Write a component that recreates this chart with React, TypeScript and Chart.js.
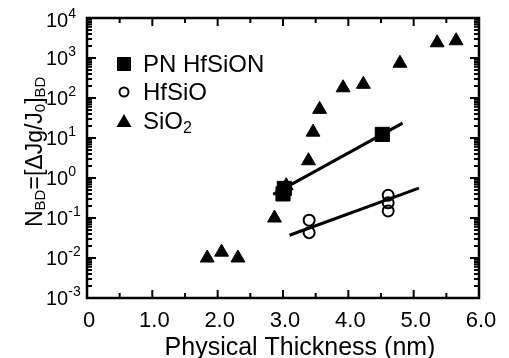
import React, { useEffect, useRef } from 'react';
import { Chart, registerables } from 'chart.js';

Chart.register(...registerables);

// ---- data ----
const sio2X = [1.84, 2.06, 2.31, 2.87, 3.05, 3.39, 3.46, 3.56, 3.92, 4.23, 4.79, 5.36, 5.65];
const sio2Y = [0.010, 0.014, 0.010, 0.10, 0.64, 2.7, 14, 52, 180, 220, 740, 2400, 2700];
const hfsionX = [3.0, 3.02, 4.52];
const hfsionY = [0.40, 0.55, 12.3];
const hfsioX = [3.4, 3.4, 4.61, 4.61, 4.61];
const hfsioY = [0.088, 0.043, 0.37, 0.24, 0.15];
const hfsionFitX = [2.85, 4.83];
const hfsionFitY = [0.39, 23.5];
const hfsioFitX = [3.1, 5.08];
const hfsioFitY = [0.037, 0.56];

const xMajorTicks = [0, 1, 2, 3, 4, 5, 6];
const xTickLabels = ['0', '1.0', '2.0', '3.0', '4.0', '5.0', '6.0'];
const xMinorTicks = [0.5, 1.5, 2.5, 3.5, 4.5, 5.5];
const yDecadeExps = [-3, -2, -1, 0, 1, 2, 3, 4];
const yMinorMultipliers = [2, 3, 4, 5, 6, 7, 8, 9];

const seriesNames = ['PN HfSiON', 'HfSiO', 'SiO'];
const xTitle = 'Physical Thickness (nm)';

const FONT = '"Liberation Sans", Arial, Helvetica, sans-serif';

function zip(xs: number[], ys: number[]) {
  return xs.map((x, i) => ({ x, y: ys[i] }));
}

const decorPlugin = {
  id: 'decor',
  afterDraw(chart: any) {
    const ctx = chart.ctx as CanvasRenderingContext2D;
    const xs = chart.scales.x;
    const ys = chart.scales.y;
    const { left, right, top, bottom } = chart.chartArea;
    ctx.save();
    ctx.strokeStyle = '#000';
    ctx.fillStyle = '#000';

    // ticks (inward)
    ctx.lineWidth = 2;
    ctx.beginPath();
    xMajorTicks.forEach((v) => {
      const px = xs.getPixelForValue(v);
      ctx.moveTo(px, bottom); ctx.lineTo(px, bottom - 8);
      ctx.moveTo(px, top); ctx.lineTo(px, top + 8);
    });
    xMinorTicks.forEach((v) => {
      const px = xs.getPixelForValue(v);
      ctx.moveTo(px, bottom); ctx.lineTo(px, bottom - 5);
      ctx.moveTo(px, top); ctx.lineTo(px, top + 5);
    });
    yDecadeExps.forEach((e) => {
      const py = ys.getPixelForValue(Math.pow(10, e));
      ctx.moveTo(left, py); ctx.lineTo(left + 9, py);
      ctx.moveTo(right, py); ctx.lineTo(right - 9, py);
      if (e < 4) {
        yMinorMultipliers.forEach((m) => {
          const pm = ys.getPixelForValue(m * Math.pow(10, e));
          ctx.moveTo(left, pm); ctx.lineTo(left + 5, pm);
          ctx.moveTo(right, pm); ctx.lineTo(right - 5, pm);
        });
      }
    });
    ctx.stroke();

    // frame
    ctx.lineWidth = 2.5;
    ctx.strokeRect(left, top, right - left, bottom - top);

    // x tick labels
    ctx.font = `22px ${FONT}`;
    ctx.textAlign = 'center';
    ctx.textBaseline = 'alphabetic';
    xMajorTicks.forEach((v, i) => {
      ctx.fillText(xTickLabels[i], xs.getPixelForValue(v) + 2, 326.5);
    });

    // x title
    ctx.font = `25px ${FONT}`;
    ctx.fillText(xTitle, 300, 355);

    // y tick labels: 10^n
    ctx.textAlign = 'left';
    yDecadeExps.forEach((e) => {
      const py = ys.getPixelForValue(Math.pow(10, e));
      const base = Math.max(py + 7, 27);
      ctx.font = `20px ${FONT}`;
      ctx.fillText('10', 46, base);
      const w = ctx.measureText('10').width;
      ctx.font = `14px ${FONT}`;
      ctx.fillText(String(e), 46 + w, base - 9);
    });

    // y title (rotated)
    ctx.save();
    ctx.translate(42, 227);
    ctx.rotate(-Math.PI / 2);
    let cx = 0;
    const big = `23px ${FONT}`;
    const small = `15px ${FONT}`;
    const parts: [string, boolean][] = [
      ['N', false], ['BD', true], ['=[\u0394Jg/J', false], ['0', true], [']', false], ['BD', true],
    ];
    parts.forEach(([t, sub]) => {
      ctx.font = sub ? small : big;
      ctx.fillText(t, cx, sub ? 3 : 0);
      cx += ctx.measureText(t).width;
    });
    ctx.restore();

    // legend
    const mx = 124;
    const tx = 143;
    const rows = [72, 100, 129];
    ctx.font = `24px ${FONT}`;
    // square
    ctx.fillRect(mx - 7, rows[0] - 15, 14, 14);
    ctx.fillText(seriesNames[0], tx, rows[0]);
    // circle
    ctx.lineWidth = 2;
    ctx.beginPath();
    ctx.arc(mx, rows[1] - 8, 4.5, 0, Math.PI * 2);
    ctx.stroke();
    ctx.fillText(seriesNames[1], tx, rows[1]);
    // triangle
    ctx.beginPath();
    ctx.moveTo(mx, rows[2] - 15);
    ctx.lineTo(mx + 7.5, rows[2] - 2);
    ctx.lineTo(mx - 7.5, rows[2] - 2);
    ctx.closePath();
    ctx.fill();
    ctx.fillText(seriesNames[2], tx, rows[2]);
    const sw = ctx.measureText(seriesNames[2]).width;
    ctx.font = `16px ${FONT}`;
    ctx.fillText('2', tx + sw, rows[2] + 4);

    ctx.restore();
  },
};

export default function App() {
  const ref = useRef<HTMLCanvasElement | null>(null);
  useEffect(() => {
    document.body.style.margin = '0';
    if (!ref.current) return;
    const chart = new Chart(ref.current, {
      type: 'scatter',
      data: {
        datasets: [
          {
            label: 'PN HfSiON fit',
            type: 'line',
            data: zip(hfsionFitX, hfsionFitY),
            borderColor: '#000',
            borderWidth: 3,
            pointRadius: 0,
            showLine: true,
            fill: false,
          },
          {
            label: 'HfSiO fit',
            type: 'line',
            data: zip(hfsioFitX, hfsioFitY),
            borderColor: '#000',
            borderWidth: 3,
            pointRadius: 0,
            showLine: true,
            fill: false,
          },
          {
            label: 'SiO2',
            data: zip(sio2X, sio2Y),
            pointStyle: 'triangle',
            pointRadius: 8,
            backgroundColor: '#000',
            borderColor: '#000',
            borderWidth: 1,
          },
          {
            label: 'PN HfSiON',
            data: zip(hfsionX, hfsionY),
            pointStyle: 'rect',
            pointRadius: 10,
            backgroundColor: '#000',
            borderColor: '#000',
            borderWidth: 1,
          },
          {
            label: 'HfSiO',
            data: zip(hfsioX, hfsioY),
            pointStyle: 'circle',
            pointRadius: 5.5,
            backgroundColor: 'rgba(0,0,0,0)',
            borderColor: '#000',
            borderWidth: 2,
          },
        ],
      },
      options: {
        responsive: false,
        animation: false,
        devicePixelRatio: 1,
        layout: { padding: { left: 87, right: 30, top: 18, bottom: 60 } },
        plugins: { legend: { display: false }, tooltip: { enabled: false } },
        scales: {
          x: { type: 'linear', min: 0, max: 6, display: false },
          y: { type: 'logarithmic', min: 1e-3, max: 1e4, display: false },
        },
      },
      plugins: [decorPlugin],
    } as any);
    return () => chart.destroy();
  }, []);
  return (
    <div style={{ position: 'absolute', left: 0, top: 0, width: 509, height: 358, background: '#fff' }}>
      <canvas ref={ref} width={509} height={358} />
    </div>
  );
}
